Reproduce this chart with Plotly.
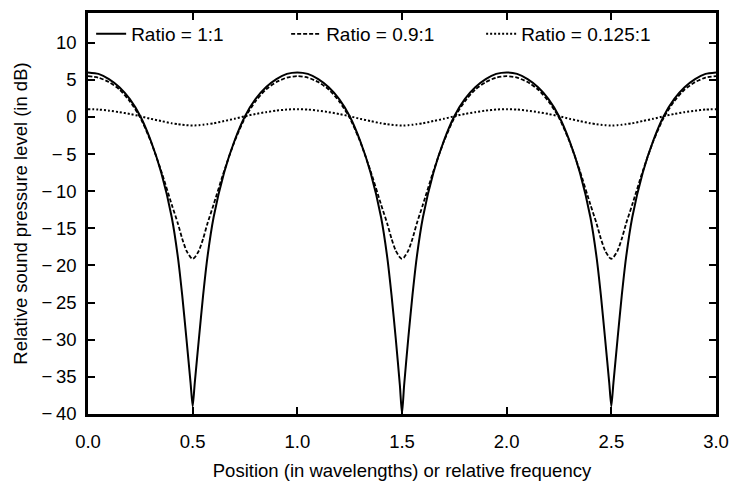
import plotly.graph_objects as go

# --------------------
# Data
# --------------------
position = [
    0.00, 0.05, 0.10, 0.15, 0.20, 0.25, 0.30, 0.35, 0.40, 0.43, 0.45, 0.47, 0.49,
    0.50, 0.51, 0.53, 0.55, 0.57, 0.60, 0.65, 0.70, 0.75, 0.80, 0.85, 0.90, 0.95,
    1.00, 1.05, 1.10, 1.15, 1.20, 1.25, 1.30, 1.35, 1.40, 1.43, 1.45, 1.47, 1.49,
    1.50, 1.51, 1.53, 1.55, 1.57, 1.60, 1.65, 1.70, 1.75, 1.80, 1.85, 1.90, 1.95,
    2.00, 2.05, 2.10, 2.15, 2.20, 2.25, 2.30, 2.35, 2.40, 2.43, 2.45, 2.47, 2.49,
    2.50, 2.51, 2.53, 2.55, 2.57, 2.60, 2.65, 2.70, 2.75, 2.80, 2.85, 2.90, 2.95,
    3.00,
]

ratio_1 = [
    6.0, 5.8, 5.1, 4.0, 2.4, 0.1, -3.2, -7.5, -13.5, -19.0, -24.0, -29.8, -35.8,
    -39.0, -35.8, -29.8, -24.0, -19.0, -13.5, -7.5, -3.2, 0.1, 2.4, 4.0, 5.1, 5.8,
    6.0, 5.8, 5.1, 4.0, 2.4, 0.1, -3.2, -7.5, -13.5, -19.0, -24.0, -29.8, -36.2,
    -40.0, -36.2, -29.8, -24.0, -19.0, -13.5, -7.5, -3.2, 0.1, 2.4, 4.0, 5.1, 5.8,
    6.0, 5.8, 5.1, 4.0, 2.4, 0.1, -3.2, -7.5, -13.5, -19.0, -24.0, -29.8, -35.8,
    -39.0, -35.8, -29.8, -24.0, -19.0, -13.5, -7.5, -3.2, 0.1, 2.4, 4.0, 5.1, 5.8,
    6.0,
]

ratio_09 = [
    5.5, 5.3, 4.7, 3.7, 2.1, -0.1, -3.3, -7.3, -11.8, -14.4, -16.4, -18.0, -18.9,
    -19.1, -18.9, -18.0, -16.4, -14.4, -11.8, -7.3, -3.3, -0.1, 2.1, 3.7, 4.7, 5.3,
    5.5, 5.3, 4.7, 3.7, 2.1, -0.1, -3.3, -7.3, -11.8, -14.4, -16.4, -18.0, -18.9,
    -19.1, -18.9, -18.0, -16.4, -14.4, -11.8, -7.3, -3.3, -0.1, 2.1, 3.7, 4.7, 5.3,
    5.5, 5.3, 4.7, 3.7, 2.1, -0.1, -3.3, -7.3, -11.8, -14.4, -16.4, -18.0, -18.9,
    -19.1, -18.9, -18.0, -16.4, -14.4, -11.8, -7.3, -3.3, -0.1, 2.1, 3.7, 4.7, 5.3,
    5.5,
]

ratio_0125 = [
    1.05, 1.0, 0.85, 0.65, 0.4, 0.1, -0.25, -0.55, -0.85, -0.97, -1.05, -1.1, -1.15,
    -1.15, -1.15, -1.1, -1.05, -0.97, -0.85, -0.55, -0.25, 0.1, 0.4, 0.65, 0.85, 1.0,
    1.05, 1.0, 0.85, 0.65, 0.4, 0.1, -0.25, -0.55, -0.85, -0.97, -1.05, -1.1, -1.15,
    -1.15, -1.15, -1.1, -1.05, -0.97, -0.85, -0.55, -0.25, 0.1, 0.4, 0.65, 0.85, 1.0,
    1.05, 1.0, 0.85, 0.65, 0.4, 0.1, -0.25, -0.55, -0.85, -0.97, -1.05, -1.1, -1.15,
    -1.15, -1.15, -1.1, -1.05, -0.97, -0.85, -0.55, -0.25, 0.1, 0.4, 0.65, 0.85, 1.0,
    1.05,
]

x_ticks = [0.0, 0.5, 1.0, 1.5, 2.0, 2.5, 3.0]
y_ticks = [10, 5, 0, -5, -10, -15, -20, -25, -30, -35, -40]
y_tick_text = ["10", "5", "0", "\u2212\u20095", "\u2212\u200910", "\u2212\u200915", "\u2212\u200920",
               "\u2212\u200925", "\u2212\u200930", "\u2212\u200935", "\u2212\u200940"]

# --------------------
# Plot
# --------------------
fig = go.Figure()

fig.add_trace(go.Scatter(
    x=position, y=ratio_1, mode="lines", name="Ratio = 1:1",
    line=dict(color="black", width=2, dash="solid", shape="spline", smoothing=0.6)
))
fig.add_trace(go.Scatter(
    x=position, y=ratio_09, mode="lines", name="Ratio = 0.9:1",
    line=dict(color="black", width=1.8, dash="4px,2px", shape="spline", smoothing=0.6)
))
fig.add_trace(go.Scatter(
    x=position, y=ratio_0125, mode="lines", name="Ratio = 0.125:1",
    line=dict(color="black", width=2, dash="2px,2px", shape="spline", smoothing=0.6)
))

axis_style = dict(
    showline=True, linecolor="black", linewidth=2.5, mirror="ticks",
    ticks="inside", ticklen=7, tickwidth=2, tickcolor="black",
    showgrid=False, zeroline=False,
    tickfont=dict(size=18.5, color="black"),
)

fig.update_xaxes(
    range=[0, 3], tickvals=x_ticks, tickformat=".1f", ticklabelstandoff=9,
    title=dict(text="Position (in wavelengths) or relative frequency",
               font=dict(size=18.5, color="black"), standoff=14),
    **axis_style
)
fig.update_yaxes(
    range=[-40, 14], tickvals=y_ticks, ticktext=y_tick_text, ticklabelstandoff=5,
    title=dict(text="Relative sound pressure level (in dB)",
               font=dict(size=18.5, color="black"), standoff=9),
    **axis_style
)

fig.update_layout(
    width=739, height=489,
    margin=dict(l=88, r=16, t=10, b=67),
    paper_bgcolor="white", plot_bgcolor="white",
    font=dict(family="Liberation Sans, Arial, sans-serif", size=18.5, color="black"),
    showlegend=True,
    legend=dict(
        orientation="h", x=0.005, y=0.995, xanchor="left", yanchor="top",
        bgcolor="rgba(255,255,255,0)", font=dict(size=19),
        entrywidth=150, entrywidthmode="pixels",
    ),
)

# drop the default 8px page margin so the figure fills the window exactly
fig.write_html("out.html", config={"displayModeBar": False},
               post_script="document.body.style.margin='0';")
